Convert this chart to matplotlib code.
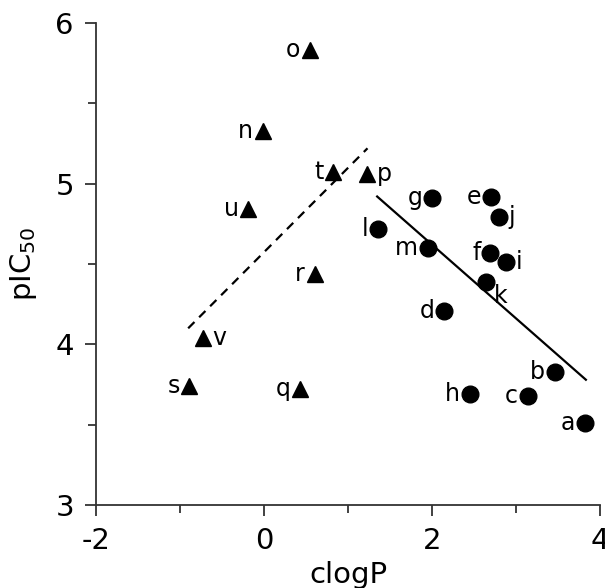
import matplotlib
matplotlib.use('Agg')
import matplotlib.pyplot as plt
from matplotlib.ticker import MultipleLocator

plt.rcParams['font.family'] = ['DejaVu Sans']
plt.rcParams['mathtext.default'] = 'regular'
plt.rcParams['axes.unicode_minus'] = False

# triangles (group 1)
tri_labels = ['o', 'n', 't', 'p', 'u', 'r', 'v', 's', 'q']
tri_x = [0.54, -0.02, 0.82, 1.23, -0.19, 0.60, -0.73, -0.89, 0.43]
tri_y = [5.83, 5.33, 5.07, 5.06, 4.84, 4.44, 4.04, 3.74, 3.72]

# circles (group 2)
circ_labels = ['l', 'g', 'e', 'j', 'm', 'f', 'i', 'k', 'd', 'b', 'h', 'c', 'a']
circ_x = [1.36, 2.00, 2.70, 2.79, 1.95, 2.69, 2.88, 2.64, 2.14, 3.46, 2.45, 3.14, 3.82]
circ_y = [4.72, 4.91, 4.92, 4.79, 4.60, 4.57, 4.51, 4.39, 4.21, 3.83, 3.69, 3.68, 3.51]

# trend lines
dash_x = [-0.905, 1.23]
dash_y = [4.10, 5.22]
solid_x = [1.345, 3.83]
solid_y = [4.92, 3.78]

# where each label sits relative to its marker
right_side = {'p', 'v', 'j', 'i'}
below_right = {'k'}

fig = plt.figure(figsize=(6.05, 5.88), dpi=100)
ax = fig.add_axes([0.159, 0.141, 0.833, 0.820])

ax.plot(dash_x, dash_y, color='black', lw=1.6, ls=(0, (4, 3)))
ax.plot(solid_x, solid_y, color='black', lw=1.6)
ax.plot(tri_x, tri_y, '^', color='black', ms=12, ls='none')
ax.plot(circ_x, circ_y, 'o', color='black', ms=12, ls='none')

def put_labels(xs, ys, labels):
    for x, y, lab in zip(xs, ys, labels):
        if lab in right_side:
            off, ha, va = (7, 0), 'left', 'center'
        elif lab in below_right:
            off, ha, va = (6, -10), 'left', 'center'
        else:
            off, ha, va = (-7, 0), 'right', 'center'
        ax.annotate(lab, (x, y), xytext=off, textcoords='offset points',
                    ha=ha, va=va, fontsize=17)

put_labels(tri_x, tri_y, tri_labels)
put_labels(circ_x, circ_y, circ_labels)

ax.set_xlim(-2, 4)
ax.set_ylim(3, 6)
ax.xaxis.set_major_locator(MultipleLocator(2))
ax.xaxis.set_minor_locator(MultipleLocator(1))
ax.yaxis.set_major_locator(MultipleLocator(1))
ax.yaxis.set_minor_locator(MultipleLocator(0.5))
ax.tick_params(which='major', direction='out', length=8, width=1.3,
               labelsize=21, color='#333333', pad=8)
ax.tick_params(which='minor', direction='out', length=6, width=1.3, color='#333333')

for side in ['top', 'right']:
    ax.spines[side].set_visible(False)
for side in ['left', 'bottom']:
    ax.spines[side].set_linewidth(1.3)
    ax.spines[side].set_color('#333333')

ax.set_xlabel('clogP', fontsize=21, labelpad=4)
ax.set_ylabel('pIC$_{50}$', fontsize=21, labelpad=12)

fig.savefig('out.png', dpi=100)
